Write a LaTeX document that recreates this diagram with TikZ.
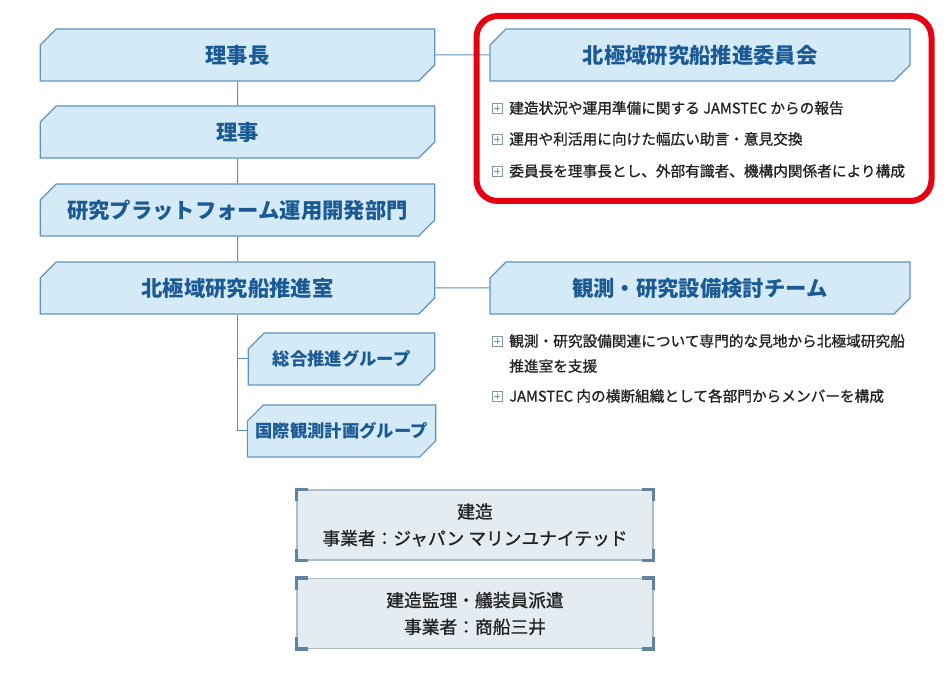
\documentclass[tikz,border=0pt]{standalone}
\usepackage{fontspec}
\setmainfont{Noto Sans CJK JP}
\newfontfamily\medfont[FakeBold=1.0]{Noto Sans CJK JP}
\usetikzlibrary{shapes.misc}
\definecolor{boxbg}{HTML}{D5EAF7}
\definecolor{boxln}{HTML}{5E93C1}
\definecolor{boxtx}{HTML}{1C5A94}
\definecolor{conn}{HTML}{5E8DB5}
\definecolor{icon}{HTML}{7F98AE}
\definecolor{ink}{HTML}{222222}
\definecolor{plbg}{HTML}{E4EBF1}
\definecolor{plln}{HTML}{A9BDCC}
\definecolor{brk}{HTML}{5F83A0}
\definecolor{hl}{HTML}{E60012}
\begin{document}
\begin{tikzpicture}[
  x=0.75pt, y=-0.75pt,
  bx/.style={chamfered rectangle, chamfered rectangle corners={north west,south east},
    chamfered rectangle xsep=6pt, chamfered rectangle ysep=6pt,
    draw=boxln, fill=boxbg, line width=0.9pt, text=boxtx, inner sep=0pt,
    minimum height=39pt, font=\fontsize{16}{18}\selectfont\bfseries},
  grp/.style={bx, minimum width=140pt, font=\fontsize{13}{15}\selectfont\bfseries},
  ln/.style={draw=conn, line width=0.75pt},
  ico/.style={draw=icon, line width=0.6pt, minimum size=7.5pt, inner sep=0pt,
    path picture={\draw[icon, line width=0.7pt]
      (path picture bounding box.center) ++(-2.2pt,0) -- ++(4.4pt,0)
      (path picture bounding box.center) ++(0,-2.2pt) -- ++(0,4.4pt);}},
  itm/.style={anchor=west, inner sep=0pt, text=ink, align=left,
    font=\fontsize{11}{18.8}\selectfont\medfont},
  plate/.style={draw=plln, fill=plbg, line width=0.8pt, minimum width=267pt,
    minimum height=52.5pt, inner sep=0pt, align=center, text=ink,
    font=\fontsize{13.3}{20}\selectfont\medfont},
  brkt/.style={draw=brk, line width=2.8pt, line join=miter}
]
\useasboundingbox (0,0) rectangle (950,680);
% ---------------- left: line of command ----------------
\node[bx, minimum width=296pt] (chair) at (237.5,55) {理事長};
\node[bx, minimum width=296pt] (exec) at (237.5,132) {理事};
\node[bx, minimum width=296pt] (dept) at (237.5,210) {研究プラットフォーム運用開発部門};
\node[bx, minimum width=296pt] (office) at (237.5,288) {北極域研究船推進室};
\node[grp] (gen) at (341.5,359) {総合推進グループ};
\node[grp] (intl) at (341.5,431) {国際観測計画グループ};
\draw[ln] (chair) -- (exec);
\draw[ln] (exec) -- (dept);
\draw[ln] (dept) -- (office);
\draw[ln] (office.south) |- (gen.west);
\draw[ln] (office.south) |- (intl.west);
% ---------------- right: committee ----------------
\node[bx, minimum width=315pt] (cmte) at (700,55) {北極域研究船推進委員会};
\draw[ln] (chair) -- (cmte);
\node[ico] (b1) at (497,108) {};
\node[itm] (t1) at (509,108) {建造状況や運用準備に関する JAMSTEC からの報告};
\node[ico] (b2) at (497,139) {};
\node[itm] (t2) at (509,139) {運用や利活用に向けた幅広い助言・意見交換};
\node[ico] (b3) at (497,171) {};
\node[itm] (t3) at (509,171) {委員長を理事長とし、外部有識者、機構内関係者により構成};
\draw[hl, line width=4.5pt, rounded corners=16pt] (476.5,16) rectangle (931.5,201);
% ---------------- right: study team ----------------
\node[bx, minimum width=315pt] (team) at (700,288) {観測・研究設備検討チーム};
\draw[ln] (office) -- (team);
\node[ico] (b4) at (497,341) {};
\node[itm] (t4) at (509,353.5) {観測・研究設備関連について専門的な見地から北極域研究船\\推進室を支援};
\node[ico] (b5) at (497,396) {};
\node[itm] (t5) at (509,396) {JAMSTEC 内の横断組織として各部門からメンバーを構成};
% ---------------- bottom: contractors ----------------
\node[plate] (bld) at (475,525) {建造\\事業者：ジャパン マリンユナイテッド};
\node[plate] (spv) at (475,613.5) {建造監理・艤装員派遣\\事業者：商船三井};
\foreach \n in {bld,spv} {
  \draw[brkt] ([yshift=-9pt]\n.north west) -- (\n.north west) -- ([xshift=9pt]\n.north west);
  \draw[brkt] ([yshift=-9pt]\n.north east) -- (\n.north east) -- ([xshift=-9pt]\n.north east);
  \draw[brkt] ([yshift=9pt]\n.south west) -- (\n.south west) -- ([xshift=9pt]\n.south west);
  \draw[brkt] ([yshift=9pt]\n.south east) -- (\n.south east) -- ([xshift=-9pt]\n.south east);
}
\end{tikzpicture}
\end{document}
